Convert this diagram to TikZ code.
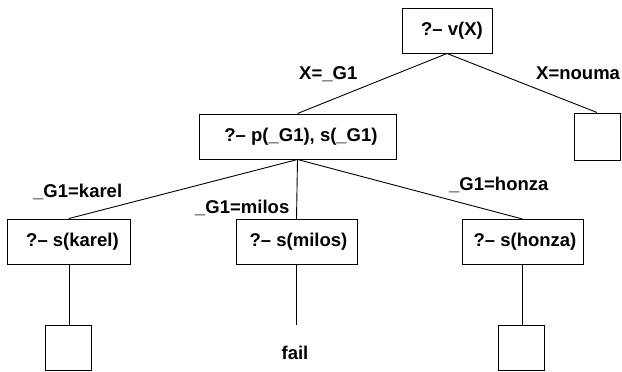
\documentclass[tikz,border=0pt]{standalone}
\usepackage{fontspec}
\setmainfont{Liberation Sans}
\begin{document}
\begin{tikzpicture}[x=1bp,y=-1bp,
  every node/.style={font=\fontsize{18.5bp}{22bp}\selectfont\bfseries},
  goal/.style={draw,line width=1bp,inner sep=0pt,minimum height=45bp},
  leaf/.style={draw,line width=1bp,inner sep=0pt,minimum width=46bp,minimum height=46bp},
  edge/.style={line width=0.9bp},
  lbl/.style={anchor=base west,inner sep=0pt}]
\useasboundingbox (0,0) rectangle (622,371);
\node[goal,minimum width=90bp] (top) at (447,30.5) {\hspace{10bp}?– v(X)};
\node[leaf,minimum height=47bp] (rleaf) at (597,136.5) {};
\node[goal,minimum width=197bp] (mid) at (297.5,136.5) {\hspace{7bp}?– p(\_G1), s(\_G1)};
\node[goal,minimum width=122bp] (karel) at (69,241.5) {\hspace{7bp}?– s(karel)};
\node[goal,minimum width=121bp] (milos) at (296.5,242) {\hspace{4bp}?– s(milos)};
\node[goal,minimum width=121bp] (honza) at (522.5,242) {\hspace{5bp}?– s(honza)};
\node[leaf,minimum height=45bp] (leafa) at (68,347.5) {};
\node[leaf,minimum height=45bp] (leafb) at (521,347.5) {};
\node[inner sep=0pt] (fail) at (295,353) {fail};
\coordinate (mend) at (296.5,325);
\draw[edge] (top.south) -- (mid.north);
\draw[edge] (top.south) -- (rleaf.north);
\draw[edge] (mid.south) -- (karel.north);
\draw[edge] (mid.south) -- (milos.north);
\draw[edge] (mid.south) -- (honza.north);
\draw[edge] (karel.south) -- (karel.south |- leafa.north);
\draw[edge] (milos.south) -- (mend);
\draw[edge] (honza.south) -- (honza.south |- leafb.north);
\node[lbl] (l1) at (299,79) {X=\_G1};
\node[lbl] (l2) at (536,79) {X=nouma};
\node[lbl] (l3) at (33,197) {\_G1=karel};
\node[lbl] (l4) at (195,213) {\_G1=milos};
\node[lbl] (l5) at (449,190) {\_G1=honza};
\end{tikzpicture}
\end{document}
